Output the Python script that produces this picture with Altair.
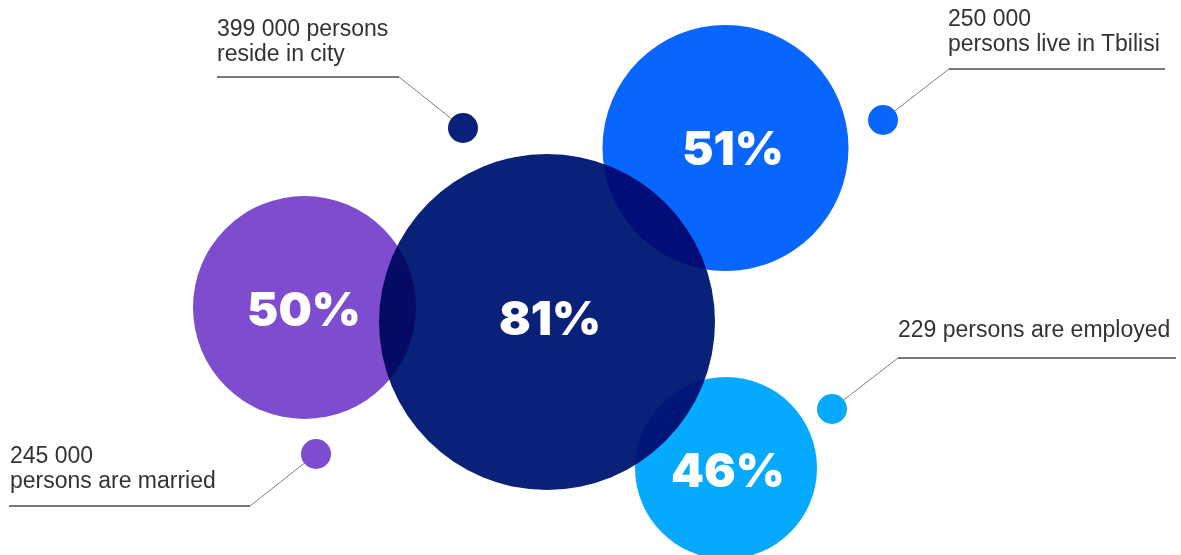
import altair as alt
import pandas as pd

W, H = 1181, 555

# ---- content ----
categories = ["married", "city", "tbilisi", "employed"]
percent_values = [50, 81, 51, 46]
callout_texts = [
    "245 000\npersons are married",
    "399 000 persons\nreside in city",
    "250 000\npersons live in Tbilisi",
    "229 persons are employed",
]
colors = ["#7e4dcf", "#0a2179", "#0866ff", "#05aaff"]

# ---- layout (pixel positions of the infographic) ----
bubble_x = [304.5, 547, 725.5, 726]
bubble_y = [307.5, 322, 148, 468]
bubble_r = [111.5, 168, 123, 91]
pct_x = [304, 550, 733, 728]
pct_y = [326, 335, 165, 487]
dot_x = [316, 463, 883, 832]
dot_y = [454, 128, 120, 409]
dot_r = [15, 15, 15, 15]
elbow_x = [250, 399, 949, 898]
elbow_y = [506, 77, 69, 358]
line_end_x = [9, 217, 1165, 1176]
label_x = [10, 217, 948, 898]
label_y = [463, 36, 26, 337]

df = pd.DataFrame({
    "cat": categories,
    "pct": [f"{v}%" for v in percent_values],
    "text": callout_texts,
    "color": colors,
    "bx": bubble_x, "by": bubble_y,
    "bs": [(2 * r) ** 2 for r in bubble_r],
    "px": pct_x, "py": pct_y,
    "dx": dot_x, "dy": dot_y,
    "ds": [(2 * r) ** 2 for r in dot_r],
    "ex": elbow_x, "ey": elbow_y,
    "lx": line_end_x,
    "tx": label_x, "ty": label_y,
})

xs = alt.Scale(domain=[0, W], nice=False, zero=False)
ys = alt.Scale(domain=[0, H], nice=False, zero=False, reverse=True)

def X(f):
    return alt.X(f"{f}:Q", scale=xs, axis=None)

def Y(f):
    return alt.Y(f"{f}:Q", scale=ys, axis=None)

base = alt.Chart(df)

bubbles_back = base.transform_filter(alt.datum.cat != "city").mark_circle(opacity=1).encode(
    x=X("bx"), y=Y("by"),
    size=alt.Size("bs:Q", scale=None, legend=None),
    color=alt.Color("color:N", scale=None, legend=None),
)
bubble_front = base.transform_filter(alt.datum.cat == "city").mark_circle(opacity=1, blend="multiply").encode(
    x=X("bx"), y=Y("by"),
    size=alt.Size("bs:Q", scale=None, legend=None),
    color=alt.Color("color:N", scale=None, legend=None),
)
pct_text = base.mark_text(
    font="Inter", fontWeight=900, fontSize=47, color="white",
    align="center", baseline="alphabetic",
).encode(x=X("px"), y=Y("py"), text="pct:N")

diag = base.mark_rule(color="#808080", strokeWidth=1).encode(
    x=X("dx"), y=Y("dy"), x2="ex:Q", y2="ey:Q"
)
horiz = base.mark_rule(color="#777777", strokeWidth=2).encode(
    x=X("ex"), y=Y("ey"), x2="lx:Q"
)
dots = base.mark_circle(opacity=1).encode(
    x=X("dx"), y=Y("dy"),
    size=alt.Size("ds:Q", scale=None, legend=None),
    color=alt.Color("color:N", scale=None, legend=None),
)
labels = base.mark_text(
    font="Liberation Sans", fontSize=23, color="#333333",
    align="left", baseline="alphabetic", lineBreak="\n", lineHeight=25,
).encode(x=X("tx"), y=Y("ty"), text="text:N")

chart = alt.layer(
    bubbles_back, bubble_front, pct_text, diag, horiz, dots, labels
).properties(
    width=W, height=H, padding=0,
    autosize=alt.AutoSizeParams(type="none"),
    background="white",
).configure_view(stroke=None)

chart.save("out.html", embed_options={"renderer": "svg", "actions": False})
